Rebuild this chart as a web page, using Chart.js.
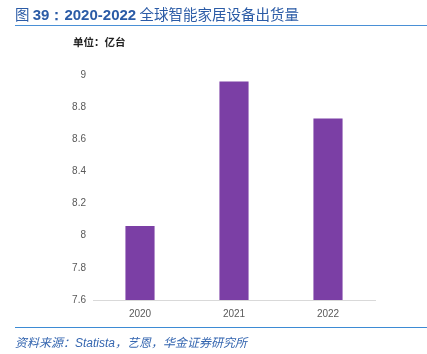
<!DOCTYPE html>
<html>
<head>
<meta charset="utf-8">
<script src="https://cdn.jsdelivr.net/npm/chart.js@4/dist/chart.umd.min.js"></script>
<style>
  html, body { margin: 0; padding: 0; background: #fff; }
  body { width: 427px; height: 354px; position: relative; overflow: hidden; font-family: "Noto Sans CJK SC", "Noto Sans", sans-serif; }
  #wrap { position: absolute; left: 0; top: 0; width: 427px; height: 354px; }
  #title { position: absolute; left: 15px; top: 4px; font-size: 14.5px; color: #2b5ba6; white-space: nowrap; line-height: 20px; }
  #title b { font-family: "Liberation Sans", Arial, sans-serif; font-weight: bold; font-size: 15px; }
  #tline { position: absolute; left: 15px; right: 0; top: 25px; height: 1px; background: #4a90d6; }
  #unit { position: absolute; left: 73px; top: 34px; font-size: 10.5px; color: #222; font-weight: bold; white-space: nowrap; }
  #bline { position: absolute; left: 15px; right: 0; top: 327px; height: 1px; background: #3d8bd4; }
  #src { position: absolute; left: 15px; top: 333px; font-size: 12px; color: #3566b0; font-style: italic; white-space: nowrap; line-height: 17px; }
  #src span { font-family: "Liberation Sans", Arial, sans-serif; }
</style>
</head>
<body>
<div id="wrap"><canvas id="c" width="427" height="354"></canvas></div>
<div id="title">图 <b>39：2020-2022</b> 全球智能家居设备出货量</div>
<div id="tline"></div>
<div id="unit">单位：亿台</div>
<div id="bline"></div>
<div id="src">资料来源：<span>Statista</span>，艺恩，华金证券研究所</div>
<script>
const categories = ["2020", "2021", "2022"];
const shipments = [8.06, 8.96, 8.73];
const yMin = 7.6;
const yMax = 9;
const yStep = 0.2;

new Chart(document.getElementById('c'), {
  type: 'bar',
  data: {
    labels: categories,
    datasets: [{
      data: shipments,
      backgroundColor: '#7b3fa5',
      borderWidth: 0,
      categoryPercentage: 1,
      barPercentage: 0.31
    }]
  },
  options: {
    responsive: false,
    animation: false,
    devicePixelRatio: 1,
    layout: { padding: { left: 0, right: 52, top: 75, bottom: 0 } },
    plugins: { legend: { display: false }, tooltip: { enabled: false } },
    scales: {
      x: {
        grid: { display: false, drawTicks: false },
        border: { display: true, color: '#d9d9d9', width: 1 },
        ticks: { color: '#595959', font: { size: 10, family: 'Liberation Sans, Arial, sans-serif' }, padding: 8 },
        afterFit: (s) => { s.height = 54; }
      },
      y: {
        min: yMin, max: yMax,
        grid: { display: false, drawTicks: false },
        border: { display: false },
        ticks: {
          stepSize: yStep, color: '#595959',
          font: { size: 10, family: 'Liberation Sans, Arial, sans-serif' }, padding: 7,
          callback: (v) => String(Math.round(v * 10) / 10)
        },
        afterFit: (s) => { s.width = 93; }
      }
    }
  }
});
</script>
</body>
</html>
